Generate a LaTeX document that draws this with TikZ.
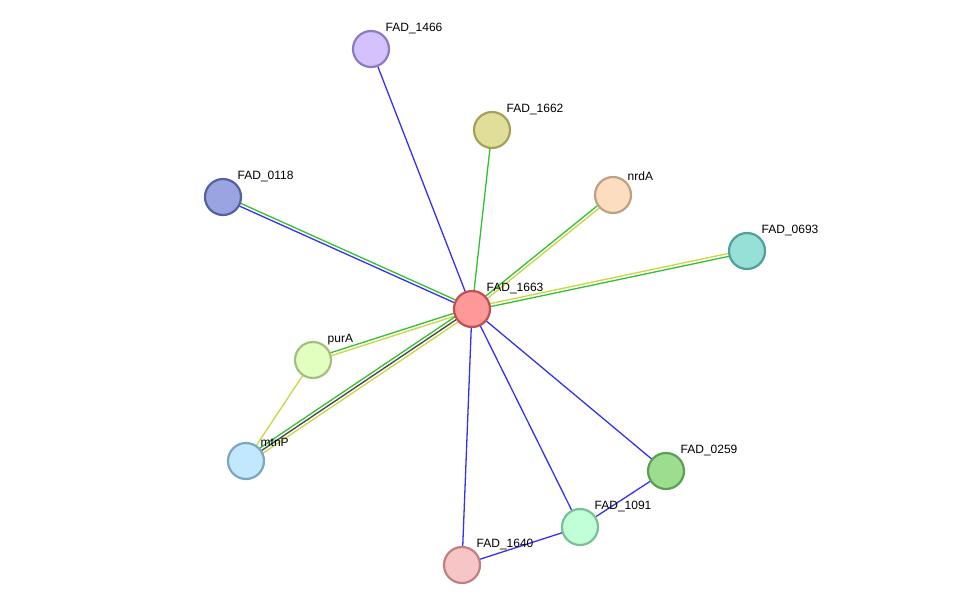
\documentclass[tikz,border=0pt]{standalone}
\usepackage{fontspec}
\setmainfont{Liberation Sans}
\usetikzlibrary{calc,backgrounds}
\definecolor{eblue}{HTML}{3333EE}
\definecolor{egreen}{HTML}{33C033}
\definecolor{eyellow}{HTML}{C8D840}
\definecolor{egray}{HTML}{444444}
\tikzset{
	prot/.style={circle, minimum size=36pt, inner sep=0pt, line width=2.2pt},
	lbl/.style={anchor=south west, inner sep=1pt, font=\fontsize{12}{14}\selectfont},
}
% edge between two nodes, shifted sideways by #4
\newcommand{\pedge}[4]{\draw[#3, line width=1.3pt] ($(#1)!#4!90:(#2)$) -- ($(#2)!#4!-90:(#1)$);}
\begin{document}
\begin{tikzpicture}[x=1pt,y=-1pt]
	\useasboundingbox (0,0) rectangle (975,611);
	\node[prot, fill={rgb,255:red,255;green,153;blue,153}, draw={rgb,255:red,190;green,80;blue,80}, label={[lbl]45:FAD\_1663}] (c) at (472,309) {};
	\node[prot, fill={rgb,255:red,212;green,194;blue,255}, draw={rgb,255:red,142;green,123;blue,191}, label={[lbl]45:FAD\_1466}] (n1466) at (371,49) {};
	\node[prot, fill={rgb,255:red,224;green,222;blue,153}, draw={rgb,255:red,163;green,161;blue,90}, label={[lbl]45:FAD\_1662}] (n1662) at (492,130) {};
	\node[prot, fill={rgb,255:red,154;green,164;blue,224}, draw={rgb,255:red,85;green,96;blue,160}, label={[lbl]45:FAD\_0118}] (n0118) at (223,197) {};
	\node[prot, fill={rgb,255:red,253;green,221;blue,192}, draw={rgb,255:red,192;green,160;blue,128}, label={[lbl]45:nrdA}] (nrdA) at (613,195) {};
	\node[prot, fill={rgb,255:red,150;green,224;blue,216}, draw={rgb,255:red,80;green,160;blue,152}, label={[lbl]45:FAD\_0693}] (n0693) at (747,251) {};
	\node[prot, fill={rgb,255:red,226;green,255;blue,192}, draw={rgb,255:red,163;green,191;blue,128}, label={[lbl]45:purA}] (purA) at (313,360) {};
	\node[prot, fill={rgb,255:red,194;green,232;blue,255}, draw={rgb,255:red,123;green,166;blue,192}, label={[lbl]45:mtnP}] (mtnP) at (246,461) {};
	\node[prot, fill={rgb,255:red,157;green,221;blue,144}, draw={rgb,255:red,90;green,160;blue,80}, label={[lbl]45:FAD\_0259}] (n0259) at (666,471) {};
	\node[prot, fill={rgb,255:red,192;green,255;blue,216}, draw={rgb,255:red,122;green,191;blue,150}, label={[lbl]45:FAD\_1091}] (n1091) at (580,527) {};
	\node[prot, fill={rgb,255:red,246;green,198;blue,198}, draw={rgb,255:red,192;green,128;blue,128}, label={[lbl]45:FAD\_1640}] (n1640) at (462,565) {};

	\begin{pgfonlayer}{background}
		\pedge{c}{n1466}{eblue}{0pt}
		\pedge{c}{n1662}{egreen}{0pt}
		\pedge{c}{n0118}{egreen}{-1.5pt}
		\pedge{c}{n0118}{eblue}{1.5pt}
		\pedge{c}{nrdA}{egreen}{1.5pt}
		\pedge{c}{nrdA}{eyellow}{-1.5pt}
		\pedge{c}{n0693}{eyellow}{1.5pt}
		\pedge{c}{n0693}{egreen}{-1.5pt}
		\pedge{c}{purA}{egreen}{-1.5pt}
		\pedge{c}{purA}{eyellow}{1.5pt}
		\pedge{c}{mtnP}{egreen}{-3pt}
		\pedge{c}{mtnP}{egray}{0pt}
		\pedge{c}{mtnP}{eyellow}{3pt}
		\pedge{c}{n0259}{eblue}{0pt}
		\pedge{c}{n1091}{eblue}{0pt}
		\pedge{c}{n1640}{eblue}{0pt}
		\pedge{purA}{mtnP}{eyellow}{0pt}
		\pedge{n0259}{n1091}{eblue}{0pt}
		\pedge{n1091}{n1640}{eblue}{0pt}
	\end{pgfonlayer}
\end{tikzpicture}
\end{document}
